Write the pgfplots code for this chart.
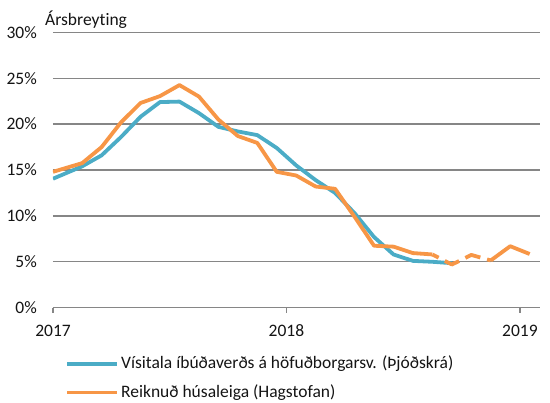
\documentclass[border=0pt]{standalone}
\usepackage{fontspec}
\setmainfont{Carlito}[Ligatures={NoCommon}]
\usepackage{pgfplots}
\pgfplotsset{compat=1.18}
\definecolor{cblue}{RGB}{75,172,198}
\definecolor{corange}{RGB}{247,150,70}
\definecolor{cgrid}{RGB}{134,134,134}
\definecolor{ctext}{RGB}{20,20,20}

\pgfplotstableread{
x y
0 14.05
1.5 15.4
2.5 16.6
3.5 18.6
4.5 20.8
5.5 22.4
6.5 22.45
7.5 21.2
8.5 19.7
9.5 19.2
10.5 18.8
11.5 17.4
12.5 15.5
13.5 13.9
14.5 12.5
15.5 10.3
16.5 7.7
17.5 5.8
18.5 5.1
19.5 5.0
20.5 4.85
}\blue

\pgfplotstableread{
x y
0 14.8
1.5 15.75
2.5 17.5
3.5 20.2
4.5 22.3
5.5 23.05
6.5 24.25
7.5 23.0
8.5 20.5
9.5 18.7
10.5 17.95
11.5 14.8
12.5 14.4
13.5 13.2
14.5 12.95
15.5 9.9
16.5 6.75
17.5 6.65
18.5 5.95
19.5 5.8
}\orangeA

\pgfplotstableread{
x y
19.5 5.8
20.5 4.7
21.5 5.75
22.5 5.15
}\orangeB

\pgfplotstableread{
x y
22.5 5.15
23.5 6.7
24.5 5.85
}\orangeC

\begin{document}
\fontsize{17.5bp}{21bp}\selectfont
\begin{tikzpicture}
\path[use as bounding box] (0,0) rectangle (550bp,403bp);
\node[anchor=base west, inner sep=0pt, text=ctext] at (45bp,377bp) {Ársbreyting};
\begin{axis}[
  at={(53bp,95.3bp)}, anchor=south west,
  scale only axis, width=487bp, height=275.4bp,
  xmin=0, xmax=25.03, ymin=0, ymax=30,
  axis x line*=bottom, axis y line*=left,
  y axis line style={draw=none},
  x axis line style={cgrid, line width=1.3bp, -},
  xtick={0,12,24}, xticklabels={2017,2018,2019},
  ytick={0,5,10,15,20,25,30},
  yticklabel={\pgfmathprintnumber[assume math mode=true]{\tick}\%},
  ymajorgrids,
  major grid style={cgrid, line width=1.3bp},
  ytick style={draw=none},
  xtick style={cgrid, line width=1.3bp},
  xtick align=outside,
  major tick length=5bp,
  tick label style={font=\fontsize{17.5bp}{21bp}\selectfont, text=ctext, inner sep=0pt},
  yticklabel style={anchor=east, xshift=-16bp},
  xticklabel style={anchor=north, yshift=-12bp},
  legend style={at={(axis description cs:0.025,-0.172)}, anchor=north west,
    draw=none, fill=none, inner sep=0pt, row sep=10bp, column sep=1bp,
    font=\fontsize{17.5bp}{21bp}\selectfont, text=ctext,
    nodes={inner sep=1bp, text height=12.5bp, text depth=4bp}},
  legend cell align=left,
  legend image code/.code={\draw[#1, line width=3.8bp, solid] (0bp,0.5bp) -- (50bp,0.5bp);},
  every axis plot/.append style={line width=3.8bp, line join=round},
]
\addplot[cblue] table[x=x,y=y] {\blue};
\addlegendentry{Vísitala íbúðaverðs á höfuðborgarsv. (Þjóðskrá)}
\addplot[corange] table[x=x,y=y] {\orangeA};
\addlegendentry{Reiknuð húsaleiga (Hagstofan)}
\addplot[corange, dash pattern=on 16bp off 7bp, dash phase=9bp, forget plot] table[x=x,y=y] {\orangeB};
\addplot[corange, forget plot] table[x=x,y=y] {\orangeC};
\end{axis}
\end{tikzpicture}
\end{document}
